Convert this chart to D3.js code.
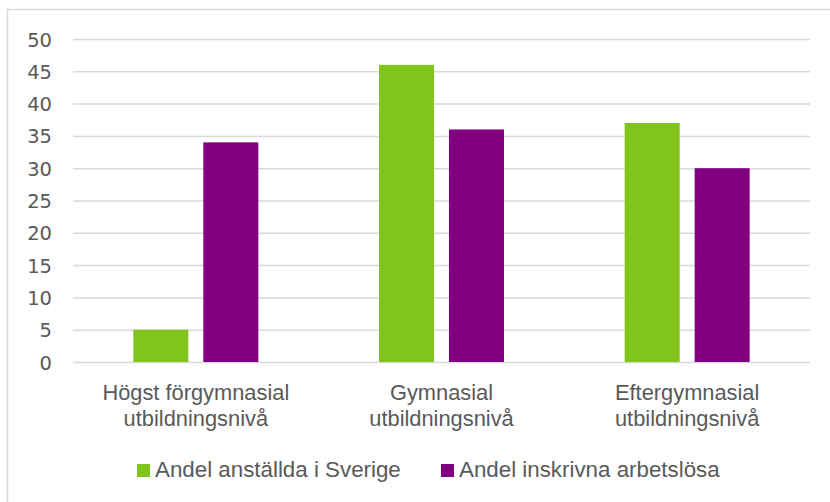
<!DOCTYPE html>
<html><head><meta charset="utf-8">
<script src="https://cdn.jsdelivr.net/npm/d3@7"></script>
<style>
body{margin:0;background:#fff;}
svg{display:block;}
.narrow{font-family:"Liberation Sans",Arial,sans-serif;}
</style></head>
<body><svg id="c" width="830" height="502"></svg>
<script>
const categories = [["Högst förgymnasial","utbildningsnivå"],["Gymnasial","utbildningsnivå"],["Eftergymnasial","utbildningsnivå"]];
const seriesNames = ["Andel anställda i Sverige","Andel inskrivna arbetslösa"];
const employed = [5, 46, 37];
const unemployed = [34, 36, 30];
const yTicks = [0,5,10,15,20,25,30,35,40,45,50];
const colors = ["#80C41C","#800080"];

const svg = d3.select("#c");
const mLeft = 73, mRight = 810, mTop = 39, mBottom = 362;

svg.append("rect").attr("x",7.5).attr("y",9.5).attr("width",840).attr("height",520)
  .attr("fill","none").attr("stroke","#d9d9d9").attr("stroke-width",1.5);

const x = d3.scaleBand().domain(d3.range(categories.length)).range([mLeft,mRight]).paddingInner(0).paddingOuter(0);
const y = d3.scaleLinear().domain([0,50]).range([mBottom,mTop]);
const x1 = d3.scaleBand().domain([0,1]).range([0,x.bandwidth()]).paddingInner(0.214).paddingOuter(0.862);

const yAxis = d3.axisLeft(y).tickValues(yTicks).tickSize(-(mRight-mLeft)).tickPadding(21);
const ga = svg.append("g").attr("transform",`translate(${mLeft},0)`).call(yAxis);
ga.select(".domain").remove();
ga.selectAll(".tick line").attr("stroke","#d9d9d9").attr("stroke-width",1.5);
ga.selectAll(".tick text").attr("fill","#595959").style("font-family","'DejaVu Sans',sans-serif").style("font-size","19.5px").attr("dy","0.36em");

const data = [employed, unemployed];
data.forEach((vals,s)=>{
  svg.append("g").selectAll("rect").data(vals).join("rect")
    .attr("x",(d,i)=>x(i)+x1(s)).attr("width",x1.bandwidth())
    .attr("y",d=>y(d)).attr("height",d=>y(0)-y(d))
    .attr("fill",colors[s]);
});

const FS = "22px";
const probe = svg.append("text").attr("class","narrow").style("font-size",FS).text(categories[0][0]);
const sx = 187 / probe.node().getComputedTextLength();
probe.text(seriesNames[0]);
const lsx = 246 / probe.node().getComputedTextLength();
probe.remove();

categories.forEach((lines,i)=>{
  const cx = x(i)+x.bandwidth()/2;
  const g = svg.append("g").attr("class","narrow").attr("transform",`translate(${cx},0) scale(${sx},1)`);
  const t = g.append("text").attr("text-anchor","middle").attr("fill","#595959").style("font-size",FS);
  lines.forEach((ln,j)=>{
    t.append("tspan").attr("x",0).attr("y",400+j*26).text(ln);
  });
});

const legX = [137, 441];
seriesNames.forEach((n,s)=>{
  svg.append("rect").attr("x",legX[s]).attr("y",464).attr("width",13).attr("height",13).attr("fill",colors[s]);
  svg.append("g").attr("class","narrow").attr("transform",`translate(${legX[s]+18},0) scale(${lsx},1)`)
    .append("text").attr("x",0).attr("y",477.5).attr("fill","#595959").style("font-size",FS).text(n);
});
</script></body></html>
